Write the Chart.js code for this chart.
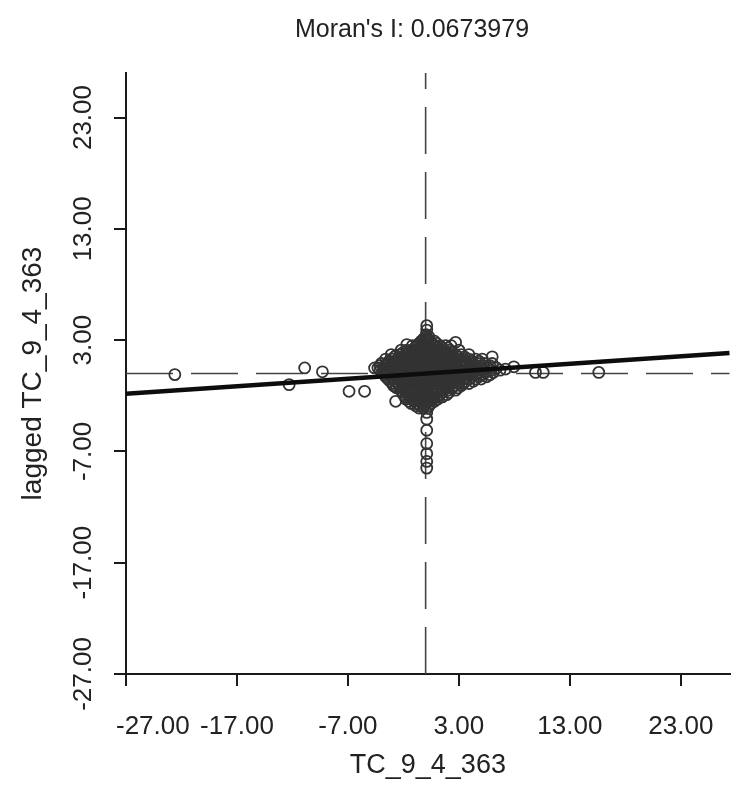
<!DOCTYPE html>
<html>
<head>
<meta charset="utf-8">
<script src="https://cdn.jsdelivr.net/npm/chart.js@4.4.1/dist/chart.umd.min.js"></script>
<style>
  html, body { margin: 0; padding: 0; background: #ffffff; }
</style>
</head>
<body>
<canvas id="chart" width="737" height="785"></canvas>
<script>
const titleText = "Moran's I: 0.0673979";
const moransI = 0.0673979;
const xTitle = "TC_9_4_363";
const yTitle = "lagged TC_9_4_363";
const tickValues = [-27, -17, -7, 3, 13, 23];
const axisMin = -27;
const xMax = 27.4;
const yMax = 27;

// dense core of the cloud, one row of z values per lag value
const coreLag = [3.3, 3.1, 2.9, 2.7, 2.5, 2.3, 2.1, 1.9, 1.7, 1.5, 1.3, 1.1, 0.9, 0.7, 0.5, 0.3, 0.1,
  -0.1, -0.3, -0.5, -0.7, -0.9, -1.1, -1.3, -1.5, -1.7, -1.9, -2.1, -2.3, -2.5, -2.7, -2.9, -3.1];
const coreZ = [
  [0.0, 0.3],
  [-0.2, 0.2],
  [-0.4, 0.0, 0.4, 0.8],
  [-0.6, -0.2, 0.2, 0.6, 1.0],
  [-1.2, -0.8, -0.4, 0.0, 0.4, 0.8, 1.3, 1.8, 2.3],
  [-1.0, -0.6, -0.2, 0.2, 0.6, 1.0, 1.5, 2.0],
  [-2.2, -1.7, -1.2, -0.8, -0.4, 0.0, 0.4, 0.8, 1.3, 1.7, 2.2, 3.0],
  [-2.0, -1.5, -1.0, -0.6, -0.2, 0.2, 0.6, 1.0, 1.5, 1.9, 2.4],
  [-3.1, -2.3, -1.8, -1.3, -0.9, -0.5, 0.0, 0.4, 0.9, 1.3, 1.8, 2.2, 2.7, 3.2, 3.9],
  [-2.8, -2.0, -1.6, -1.1, -0.7, -0.2, 0.2, 0.7, 1.1, 1.5, 2.0, 2.4, 2.9, 3.5],
  [-3.6, -3.0, -2.5, -2.0, -1.6, -1.1, -0.7, -0.2, 0.2, 0.7, 1.1, 1.6, 2.0, 2.5, 2.9, 3.4, 3.9, 4.5, 5.1],
  [-3.3, -2.8, -2.3, -1.8, -1.4, -0.9, -0.5, 0.0, 0.4, 0.9, 1.3, 1.8, 2.2, 2.7, 3.1, 3.6, 4.1, 4.8],
  [-4.0, -3.5, -3.0, -2.6, -2.1, -1.7, -1.2, -0.8, -0.3, 0.1, 0.6, 1.0, 1.5, 1.9, 2.4, 2.8, 3.3, 3.7, 4.2, 4.7, 5.3, 6.0],
  [-4.1, -3.6, -3.2, -2.7, -2.3, -1.8, -1.4, -0.9, -0.5, 0.0, 0.4, 0.9, 1.3, 1.8, 2.2, 2.7, 3.1, 3.6, 4.1, 4.6, 5.2, 5.8],
  [-4.3, -3.8, -3.3, -2.8, -2.4, -1.9, -1.5, -1.0, -0.6, -0.1, 0.3, 0.8, 1.2, 1.7, 2.1, 2.6, 3.0, 3.5, 4.0, 4.5, 5.0, 5.6, 6.4],
  [-4.1, -3.6, -3.1, -2.6, -2.2, -1.7, -1.3, -0.8, -0.4, 0.1, 0.5, 1.0, 1.4, 1.9, 2.3, 2.8, 3.2, 3.7, 4.2, 4.7, 5.2, 5.9, 6.7],
  [-3.9, -3.4, -3.0, -2.5, -2.1, -1.6, -1.2, -0.7, -0.3, 0.2, 0.6, 1.1, 1.5, 2.0, 2.4, 2.9, 3.3, 3.8, 4.3, 4.8, 5.4, 6.1],
  [-3.7, -3.2, -2.8, -2.3, -1.9, -1.4, -1.0, -0.5, -0.1, 0.4, 0.8, 1.3, 1.7, 2.2, 2.6, 3.1, 3.5, 4.0, 4.5, 5.1, 5.8],
  [-3.6, -3.1, -2.6, -2.2, -1.7, -1.3, -0.8, -0.4, 0.1, 0.5, 1.0, 1.4, 1.9, 2.3, 2.8, 3.2, 3.7, 4.2, 4.8, 5.5],
  [-3.4, -2.9, -2.4, -2.0, -1.5, -1.1, -0.6, -0.2, 0.3, 0.7, 1.2, 1.6, 2.1, 2.5, 3.0, 3.4, 3.9, 4.5, 5.0],
  [-3.2, -2.7, -2.3, -1.8, -1.4, -0.9, -0.5, 0.0, 0.4, 0.9, 1.3, 1.8, 2.2, 2.7, 3.1, 3.6, 4.3],
  [-3.0, -2.5, -2.1, -1.6, -1.2, -0.7, -0.3, 0.2, 0.6, 1.1, 1.5, 2.0, 2.4, 2.9, 3.4, 3.9],
  [-2.9, -2.4, -1.9, -1.5, -1.0, -0.6, -0.1, 0.3, 0.8, 1.2, 1.7, 2.1, 2.6, 3.2],
  [-2.6, -2.1, -1.7, -1.2, -0.8, -0.3, 0.1, 0.6, 1.0, 1.5, 1.9, 2.4, 2.9],
  [-2.2, -1.7, -1.2, -0.8, -0.3, 0.1, 0.6, 1.0, 1.5, 2.0, 2.7],
  [-2.1, -1.7, -1.2, -0.8, -0.3, 0.1, 0.6, 1.0, 1.5, 2.1],
  [-2.0, -1.5, -1.0, -0.6, -0.1, 0.3, 0.8, 1.3, 1.9],
  [-1.8, -1.3, -0.8, -0.4, 0.1, 0.5, 1.0, 1.5],
  [-1.8, -1.3, -0.8, -0.3, 0.1, 0.6, 1.1],
  [-1.5, -1.0, -0.6, -0.1, 0.3, 0.8],
  [-1.3, -0.8, -0.3, 0.1, 0.5],
  [-0.9, -0.5, -0.1, 0.3],
  [-0.6, -0.2, 0.2]
];

// points along the vertical spine near z = 0
const spineZ = [0.1, 0.1, 0.05, 0.1, 0.1, 0.1, 0.1, 0.1, 0.1, 0.1, 0.1];
const spineLag = [4.3, 3.9, 3.5, 3.1, -3.5, -4.1, -5.1, -6.3, -7.2, -7.9, -8.5];

// scattered points outside the core
const tailZ = [-22.6, -12.3, -10.9, -9.3, -6.9, -5.5, -4.6, -2.7, -2.7, -1.7, -2.7, 2.7, 6.0, 7.2, 7.95, 9.9, 10.6, 15.6];
const tailLag = [-0.1, -1.0, 0.5, 0.15, -1.6, -1.6, 0.5, -2.5, -1.2, 2.6, 1.6, 2.8, 1.5, 0.4, 0.6, 0.1, 0.1, 0.1];

const fontFamily = "'Liberation Sans', Arial, sans-serif";
const textColor = '#222222';
const axisColor = '#1a1a1a';

const points = [];
coreLag.forEach((lag, i) => coreZ[i].forEach(z => points.push({x: z, y: lag})));
spineZ.forEach((z, i) => points.push({x: z, y: spineLag[i]}));
tailZ.forEach((z, i) => points.push({x: z, y: tailLag[i]}));

const textPlugin = {
  id: 'moranText',
  afterDraw(chart) {
    const ctx = chart.ctx;
    const xScale = chart.scales.x;
    const yScale = chart.scales.y;
    ctx.save();
    ctx.fillStyle = textColor;
    ctx.font = '26px ' + fontFamily;
    ctx.textAlign = 'center';
    ctx.textBaseline = 'alphabetic';
    yScale.ticks.forEach(t => {
      ctx.save();
      ctx.translate(91, yScale.getPixelForValue(t.value));
      ctx.rotate(-Math.PI / 2);
      ctx.fillText(t.value.toFixed(2), 0, 0);
      ctx.restore();
    });
    ctx.textBaseline = 'middle';
    xScale.ticks.forEach(t => {
      const label = t.value.toFixed(2);
      const w = ctx.measureText(label).width;
      const px = Math.max(xScale.getPixelForValue(t.value), 116 + w / 2);
      ctx.fillText(label, px, 727);
    });
    ctx.font = '25px ' + fontFamily;
    ctx.fillText(titleText, 412, 30);
    ctx.restore();
  }
};

new Chart(document.getElementById('chart').getContext('2d'), {
  type: 'scatter',
  data: {
    datasets: [{
      type: 'line',
      data: [{x: axisMin, y: moransI * axisMin}, {x: xMax, y: moransI * xMax}],
      borderColor: '#0d0d0d',
      borderWidth: 4.5,
      pointRadius: 0,
      order: 0
    }, {
      data: points,
      pointStyle: 'circle',
      pointRadius: 5.5,
      borderWidth: 1.8,
      borderColor: '#333333',
      backgroundColor: 'rgba(0,0,0,0)',
      order: 1
    }, {
      type: 'line',
      data: [{x: 0, y: axisMin}, {x: 0, y: yMax}],
      borderColor: '#444444',
      borderWidth: 1.6,
      borderDash: [47, 18],
      pointRadius: 0,
      order: 2
    }, {
      type: 'line',
      data: [{x: axisMin, y: 0}, {x: xMax, y: 0}],
      borderColor: '#444444',
      borderWidth: 1.6,
      borderDash: [47, 18],
      pointRadius: 0,
      order: 2
    }]
  },
  options: {
    responsive: false,
    animation: false,
    layout: {padding: {top: 73, right: 4, left: 0, bottom: 0}},
    plugins: {
      legend: {display: false},
      tooltip: {enabled: false}
    },
    scales: {
      x: {
        type: 'linear',
        min: axisMin,
        max: xMax,
        afterBuildTicks: s => { s.ticks = tickValues.map(v => ({value: v})); },
        afterFit: s => { s.height = 111; },
        grid: {drawOnChartArea: false, drawTicks: true, tickLength: 12, color: axisColor, lineWidth: 2},
        border: {color: axisColor, width: 2},
        ticks: {display: false},
        title: {display: true, text: xTitle, color: textColor, font: {family: fontFamily, size: 27}, padding: {top: 0, bottom: 3}}
      },
      y: {
        type: 'linear',
        min: axisMin,
        max: yMax,
        afterBuildTicks: s => { s.ticks = tickValues.map(v => ({value: v})); },
        afterFit: s => { s.width = 126; },
        grid: {drawOnChartArea: false, drawTicks: true, tickLength: 12, color: axisColor, lineWidth: 2},
        border: {color: axisColor, width: 2},
        ticks: {display: false},
        title: {display: true, text: yTitle, color: textColor, font: {family: fontFamily, size: 28}, padding: {top: 16, bottom: 0}}
      }
    }
  },
  plugins: [textPlugin]
});
</script>
</body>
</html>
